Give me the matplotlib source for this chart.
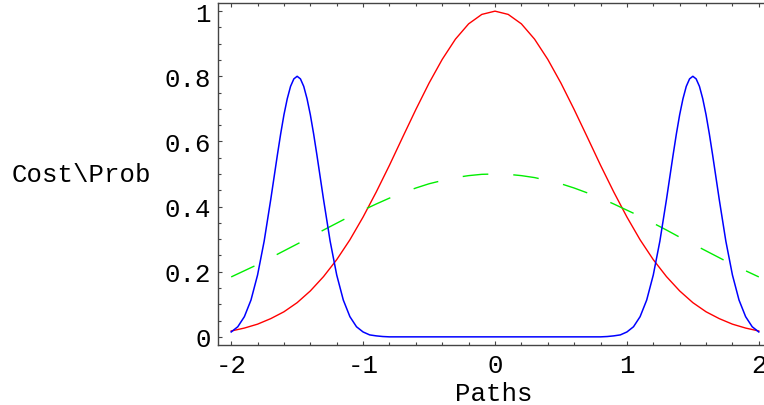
import numpy as np
import matplotlib
matplotlib.use('Agg')
from matplotlib import pyplot as plt
from matplotlib.ticker import MultipleLocator, FixedFormatter, FixedLocator

# red curve, x = -2 .. 2 step 0.1
x = np.linspace(-2, 2, 41)
cost = [0.018, 0.027, 0.039, 0.056, 0.077, 0.105, 0.141, 0.185, 0.237, 0.298,
        0.368, 0.445, 0.527, 0.613, 0.698, 0.779, 0.852, 0.914, 0.961, 0.990,
        1.000,
        0.990, 0.961, 0.914, 0.852, 0.779, 0.698, 0.613, 0.527, 0.445, 0.368,
        0.298, 0.237, 0.185, 0.141, 0.105, 0.077, 0.056, 0.039, 0.027, 0.018]

# green dashed curve, same x
prob = [0.184, 0.203, 0.222, 0.243, 0.264, 0.285, 0.306, 0.328, 0.349, 0.370,
        0.389, 0.408, 0.426, 0.442, 0.457, 0.470, 0.480, 0.489, 0.495, 0.499,
        0.500,
        0.499, 0.495, 0.489, 0.480, 0.470, 0.457, 0.442, 0.426, 0.408, 0.389,
        0.370, 0.349, 0.328, 0.306, 0.285, 0.264, 0.243, 0.222, 0.203, 0.184]

# blue curve, finer sampling around the two peaks
x_paths = ([-2.0, -1.95, -1.9, -1.85, -1.8, -1.75, -1.7, -1.675, -1.65, -1.625,
            -1.6, -1.575, -1.55, -1.525, -1.5, -1.475, -1.45, -1.425, -1.4,
            -1.375, -1.35, -1.325, -1.3, -1.25, -1.2, -1.15, -1.1, -1.05, -1.0,
            -0.95, -0.9, -0.85, -0.8, 0.8,
            0.85, 0.9, 0.95, 1.0, 1.05, 1.1, 1.15, 1.2, 1.25, 1.3, 1.325, 1.35,
            1.375, 1.4, 1.425, 1.45, 1.475, 1.5, 1.525, 1.55, 1.575, 1.6, 1.625,
            1.65, 1.675, 1.7, 1.75, 1.8, 1.85, 1.9, 1.95, 2.0])
paths = ([0.015, 0.031, 0.062, 0.113, 0.190, 0.294, 0.422, 0.490, 0.558, 0.623,
          0.682, 0.731, 0.769, 0.792, 0.800, 0.792, 0.769, 0.731, 0.682,
          0.623, 0.558, 0.490, 0.422, 0.294, 0.190, 0.113, 0.062, 0.031, 0.015,
          0.006, 0.003, 0.001, 0.0, 0.0,
          0.001, 0.003, 0.006, 0.015, 0.031, 0.062, 0.113, 0.190, 0.294, 0.422, 0.490, 0.558,
          0.623, 0.682, 0.731, 0.769, 0.792, 0.800, 0.792, 0.769, 0.731, 0.682, 0.623,
          0.558, 0.490, 0.422, 0.294, 0.190, 0.113, 0.062, 0.031, 0.015])

y_ticks = [0, 0.2, 0.4, 0.6, 0.8, 1]
y_labels = ['0', '0.2', '0.4', '0.6', '0.8', '1']
x_ticks = [-2, -1, 0, 1, 2]

plt.rcParams['font.family'] = ['Liberation Mono', 'DejaVu Sans Mono']
plt.rcParams['lines.scale_dashes'] = False
plt.rcParams['axes.unicode_minus'] = False

fig = plt.figure(figsize=(7.64, 4.06), dpi=100)
ax = fig.add_axes([218 / 764, 60 / 406, 554 / 764, 342 / 406])

ax.plot(x, cost, color='#ff0000', lw=1.0)
ax.plot(x, prob, color='#00ee00', lw=1.0, dashes=(18.5, 18))
ax.plot(x_paths, paths, color='#0000ff', lw=1.1)

ax.set_xlim(-2.1, 2.1)
ax.set_ylim(-0.025, 1.025)

ax.yaxis.set_major_locator(FixedLocator(y_ticks))
ax.yaxis.set_major_formatter(FixedFormatter(y_labels))
ax.yaxis.set_minor_locator(MultipleLocator(0.05))
ax.xaxis.set_major_locator(FixedLocator(x_ticks))
ax.xaxis.set_minor_locator(MultipleLocator(0.2))

ax.tick_params(which='both', direction='in', top=True, right=True,
               color='#444444', labelsize=18.5, width=0.8)
ax.tick_params(which='major', length=3)
ax.tick_params(which='minor', length=2)
ax.tick_params(axis='y', pad=5)
ax.tick_params(axis='x', pad=6)
for s in ax.spines.values():
    s.set_color('#444444')
    s.set_linewidth(1.0)

fig.text(12 / 764, 1 - 175 / 406, 'Cost\\Prob', fontsize=18.5, ha='left', va='center')
fig.text(494 / 764, 12 / 406, 'Paths', fontsize=18.5, ha='center', va='center')

plt.savefig('out.png', dpi=100)
